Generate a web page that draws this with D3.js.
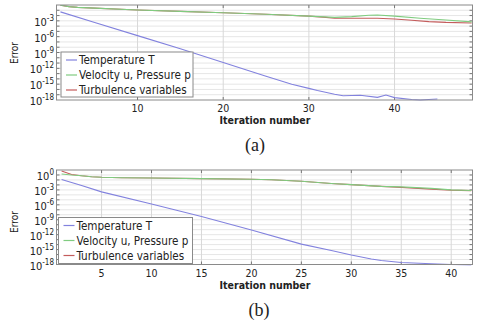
<!DOCTYPE html>
<html>
<head>
<meta charset="utf-8">
<script src="https://cdn.jsdelivr.net/npm/d3@7"></script>
<style>
  body { margin: 0; background: #fff; }
  svg text { font-family: "DejaVu Sans Condensed", "DejaVu Sans", sans-serif; fill: #222; }
</style>
</head>
<body>
<div class="chart"></div>
<script>
// series labels + colours
const seriesNames = ["Temperature T", "Velocity u, Pressure p", "Turbulence variables"];
const seriesColors = ["#8282de", "#80cc80", "#c45c5c"];

// panel (a) : iteration number and log10(error)
const itA_T = [1, 5, 10, 15, 20, 25, 28, 30, 31, 33, 34, 36, 38, 39, 40, 42, 43, 45];
const expA_T = [-1.3, -3.3, -5.8, -8.3, -10.9, -13.5, -15.0, -15.8, -16.2, -16.9, -17.2, -17.1, -17.5, -17.05, -17.55, -17.9, -18.0, -17.8];
const itA_U = [1, 2, 3, 5, 10, 15, 20, 25, 30, 33, 35, 37, 38, 40, 43, 46, 49];
const expA_U = [-0.05, -0.3, -0.45, -0.6, -0.95, -1.2, -1.46, -1.75, -2.1, -2.35, -2.2, -1.95, -1.9, -2.1, -2.5, -2.85, -3.2];
const itA_K = [1, 2, 3, 5, 10, 15, 20, 25, 30, 32, 33, 36, 38, 40, 42, 44, 46, 49];
const expA_K = [-0.05, -0.3, -0.45, -0.6, -0.95, -1.2, -1.46, -1.75, -2.1, -2.35, -2.5, -2.5, -2.5, -2.65, -2.9, -3.15, -3.3, -3.4];

// panel (b)
const itB_T = [1, 2, 3, 5, 10, 15, 20, 25, 28, 30, 32, 33, 35, 38, 40, 42];
const expB_T = [-0.9, -1.5, -2.1, -3.4, -5.85, -8.35, -11.05, -13.9, -15.2, -16.1, -16.9, -17.2, -17.6, -17.85, -18.0, -18.15];
const itB_U = [1, 2, 3, 4, 5, 7, 10, 15, 20, 22, 25, 28, 30, 33, 35, 37, 38, 40, 42];
const expB_U = [0.2, 0.0, -0.15, -0.35, -0.47, -0.55, -0.6, -0.73, -0.87, -0.95, -1.25, -1.7, -1.95, -2.3, -2.4, -2.6, -2.7, -3.0, -3.12];
const itB_K = [1, 2, 3, 4, 5, 7, 10, 15, 20, 22, 25, 28, 30, 33, 35, 38, 40, 42];
const expB_K = [0.8, 0.1, -0.15, -0.35, -0.47, -0.55, -0.6, -0.73, -0.87, -0.95, -1.25, -1.7, -1.95, -2.3, -2.5, -2.85, -3.05, -3.15];

// tick labels
const xTicksA = [10, 20, 30, 40];
const xTicksB = [5, 10, 15, 20, 25, 30, 35, 40];
const yTickExpA = [-3, -6, -9, -12, -15, -18];
const yTickExpB = [0, -3, -6, -9, -12, -15, -18];

const W = 480, H = 327;
const svg = d3.select(".chart").append("svg")
    .attr("width", W)
    .attr("height", H);

function makeSeries(its, exps){
    return its.map((d, i) => [d, Math.pow(10, exps[i])]);
}

function drawPanel(p){
    const x = d3.scaleLinear().domain(p.xDom).range([p.left, p.right]);
    const y = d3.scaleLog().domain(p.yDom).range([p.bottom, p.top]);
    const g = svg.append("g");

    // decade gridlines
    let decades = d3.range(-17, Math.round(Math.log10(p.yDom[1])));
    g.selectAll(".hgrid").data(decades).enter().append("line")
        .attr("x1", p.left).attr("x2", p.right)
        .attr("y1", d => y(Math.pow(10, d))).attr("y2", d => y(Math.pow(10, d)))
        .attr("stroke", "#e6e6e6").attr("stroke-width", 1);
    g.selectAll(".vgrid").data(p.xTicks).enter().append("line")
        .attr("x1", d => x(d)).attr("x2", d => x(d))
        .attr("y1", p.top).attr("y2", p.bottom)
        .attr("stroke", "#d8d8d8").attr("stroke-width", 1);

    // small inward ticks
    g.selectAll(".rt").data(decades).enter().append("line")
        .attr("x1", p.right - 3).attr("x2", p.right)
        .attr("y1", d => y(Math.pow(10, d))).attr("y2", d => y(Math.pow(10, d)))
        .attr("stroke", "#777");
    g.selectAll(".lt").data(decades).enter().append("line")
        .attr("x1", p.left).attr("x2", p.left + 3)
        .attr("y1", d => y(Math.pow(10, d))).attr("y2", d => y(Math.pow(10, d)))
        .attr("stroke", "#777");
    g.selectAll(".bt").data(p.xTicks).enter().append("line")
        .attr("x1", d => x(d)).attr("x2", d => x(d))
        .attr("y1", p.bottom - 3).attr("y2", p.bottom)
        .attr("stroke", "#777");
    g.selectAll(".tt").data(p.xTicks).enter().append("line")
        .attr("x1", d => x(d)).attr("x2", d => x(d))
        .attr("y1", p.top).attr("y2", p.top + 3)
        .attr("stroke", "#777");

    // series lines
    const line = d3.line().x(d => x(d[0])).y(d => y(Math.max(d[1], p.yDom[0] * 0.6)));
    const clipId = "clip" + p.id;
    svg.append("clipPath").attr("id", clipId).append("rect")
        .attr("x", p.left).attr("y", p.top)
        .attr("width", p.right - p.left).attr("height", p.bottom - p.top + 1);
    const lg = g.append("g").attr("clip-path", "url(#" + clipId + ")");
    [2, 1, 0].forEach(k => {
        lg.append("path")
            .datum(p.series[k])
            .attr("d", line)
            .attr("fill", "none")
            .attr("stroke", seriesColors[k])
            .attr("stroke-width", 1.1);
    });

    // frame
    g.append("rect")
        .attr("x", p.left).attr("y", p.top)
        .attr("width", p.right - p.left).attr("height", p.bottom - p.top)
        .attr("fill", "none").attr("stroke", "#8a8a8a").attr("stroke-width", 1);

    // x tick labels
    g.selectAll(".xl").data(p.xTicks).enter().append("text")
        .attr("x", d => x(d)).attr("y", p.bottom + 12)
        .attr("text-anchor", "middle")
        .attr("font-size", 10.5)
        .text(d => d);

    // y tick labels 10^n
    p.yTickExp.forEach(e => {
        const t = g.append("text")
            .attr("x", 54).attr("y", y(Math.pow(10, e)) + 5)
            .attr("text-anchor", "end")
            .attr("font-size", 11);
        t.append("tspan").text("10");
        t.append("tspan").attr("dy", -5).attr("font-size", 8).text(e === 0 ? "0" : "-" + (-e));
    });

    // axis titles
    g.append("text")
        .attr("transform", "translate(" + 18 + "," + p.errorY + ") rotate(-90)")
        .attr("text-anchor", "middle")
        .attr("font-size", 10)
        .text("Error");
    g.append("text")
        .attr("x", 265).attr("y", p.bottom + 24)
        .attr("text-anchor", "middle")
        .attr("font-size", 10.5)
        .attr("font-weight", "bold")
        .text("Iteration number");

    // caption
    g.append("text")
        .attr("x", p.capX).attr("y", p.bottom + 51)
        .attr("text-anchor", "middle")
        .style("font-family", "'Liberation Serif', 'DejaVu Serif', serif")
        .attr("font-size", 18)
        .text(p.caption);

    // legend
    const L = p.legend;
    g.append("rect")
        .attr("x", L.x).attr("y", L.y)
        .attr("width", L.w).attr("height", L.h)
        .attr("fill", "#fff").attr("stroke", "#8a8a8a").attr("stroke-width", 1);
    seriesNames.forEach((s, i) => {
        const yy = L.y + 8 + i * 15;
        g.append("line")
            .attr("x1", L.x + 5).attr("x2", L.x + 16)
            .attr("y1", yy).attr("y2", yy)
            .attr("stroke", seriesColors[i]).attr("stroke-width", 1.2);
        g.append("text")
            .attr("x", L.x + 18).attr("y", yy + 4)
            .attr("font-size", 11.6)
            .text(s);
    });
}

drawPanel({
    id: "a", left: 56.5, right: 472.5, top: 5, bottom: 100,
    xDom: [0.54, 49.1], yDom: [1e-18, 1],
    xTicks: xTicksA, yTickExp: yTickExpA,
    series: [makeSeries(itA_T, expA_T), makeSeries(itA_U, expA_U), makeSeries(itA_K, expA_K)],
    errorY: 53, caption: "(a)", capX: 255,
    legend: { x: 61, y: 52, w: 132, h: 45 }
});

drawPanel({
    id: "b", left: 56.5, right: 472.5, top: 170, bottom: 264.5,
    xDom: [0.49, 42.13], yDom: [1e-18, 10],
    xTicks: xTicksB, yTickExp: yTickExpB,
    series: [makeSeries(itB_T, expB_T), makeSeries(itB_U, expB_U), makeSeries(itB_K, expB_K)],
    errorY: 222, caption: "(b)", capX: 259,
    legend: { x: 58.5, y: 217.5, w: 134, h: 46 }
});
</script>
</body>
</html>
